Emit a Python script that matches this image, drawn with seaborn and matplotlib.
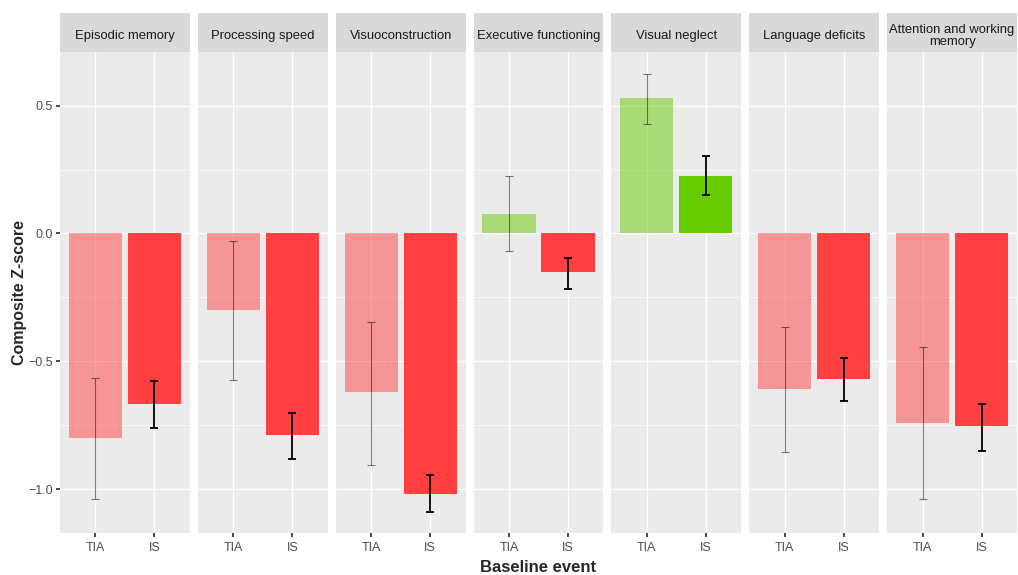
import matplotlib
matplotlib.use('Agg')
import matplotlib.pyplot as plt
import seaborn as sns
import numpy as np
import pandas as pd

# 数据
domains = ['Episodic memory', 'Processing speed', 'Visuoconstruction',
           'Executive functioning', 'Visual neglect', 'Language deficits',
           'Attention and working\nmemory']
events = ['TIA', 'IS']
tia_mean = [-0.80, -0.30, -0.62, 0.076, 0.53, -0.61, -0.74]
tia_lower = [-1.04, -0.573, -0.906, -0.068, 0.43, -0.856, -1.04]
tia_upper = [-0.564, -0.029, -0.348, 0.225, 0.623, -0.366, -0.445]
is_mean = [-0.666, -0.79, -1.021, -0.152, 0.226, -0.568, -0.755]
is_lower = [-0.761, -0.883, -1.091, -0.218, 0.152, -0.654, -0.851]
is_upper = [-0.577, -0.703, -0.945, -0.095, 0.303, -0.488, -0.668]

df = pd.DataFrame({
    'domain': np.repeat(domains, 2),
    'event': events * len(domains),
    'z': np.ravel(np.column_stack([tia_mean, is_mean])),
    'lower': np.ravel(np.column_stack([tia_lower, is_lower])),
    'upper': np.ravel(np.column_stack([tia_upper, is_upper])),
})

# 正值绿色、负值红色；TIA 半透明
SIGN_COLOR = {True: '#66CC00', False: '#FF4040'}
ALPHA = {'TIA': 0.5, 'IS': 1.0}
ERR_STYLE = {'TIA': dict(lw=0.8, alpha=0.5), 'IS': dict(lw=1.3, alpha=1.0)}

sns.set_theme(style='darkgrid')
plt.rcParams['font.family'] = ['Liberation Sans', 'DejaVu Sans']

fig = plt.figure(figsize=(10.18, 5.75), dpi=100)
left, right, bottom, top = 60 / 1018, 1017 / 1018, 1 - 533 / 575, 1 - 52 / 575
gap = 8 / 1018
n = len(domains)
w = (right - left - gap * (n - 1)) / n
strip_h = 39 / 575

for i, dom in enumerate(domains):
    ax = fig.add_axes([left + i * (w + gap), bottom, w, top - bottom])
    sub = df[df['domain'] == dom].set_index('event').loc[events].reset_index()
    pal = {r.event: SIGN_COLOR[r.z > 0] for r in sub.itertuples()}
    sns.barplot(data=sub, x='event', y='z', hue='event', order=events,
                palette=pal, width=0.9, errorbar=None, legend=False,
                saturation=1, linewidth=0, ax=ax, zorder=2)
    for p in ax.patches:
        cx = p.get_x() + p.get_width() / 2
        p.set_alpha(ALPHA[events[int(round(cx))]])
    for j, r in enumerate(sub.itertuples()):
        st = ERR_STYLE[r.event]
        ax.errorbar(j, r.z, yerr=[[r.z - r.lower], [r.upper - r.z]], fmt='none',
                    ecolor='black', elinewidth=st['lw'], capsize=3,
                    capthick=st['lw'], alpha=st['alpha'], zorder=3)
    ax.set_facecolor('#EBEBEB')
    ax.set_xlim(-0.6, 1.6)
    ax.set_ylim(-1.172, 0.71)
    ax.set_yticks([-1.0, -0.5, 0.0, 0.5])
    ax.set_yticks([-0.75, -0.25, 0.25], minor=True)
    ax.grid(which='major', color='white', lw=1.0)
    ax.grid(which='minor', axis='y', color='white', lw=0.5)
    ax.set_axisbelow(True)
    for s in ax.spines.values():
        s.set_visible(False)
    ax.tick_params(axis='x', length=3, color='#333333', labelsize=9,
                   labelcolor='#4D4D4D', pad=3.5, bottom=True)
    ax.set_xlabel('')
    ax.set_ylabel('')
    if i == 0:
        ax.tick_params(axis='y', length=3, color='#333333', labelsize=9,
                       labelcolor='#4D4D4D', pad=2, left=True)
    else:
        ax.tick_params(axis='y', left=False, labelleft=False)
    # 分面标题条
    sax = fig.add_axes([left + i * (w + gap), top, w, strip_h])
    sax.set_facecolor('#D9D9D9')
    sax.set_xticks([])
    sax.set_yticks([])
    for s in sax.spines.values():
        s.set_visible(False)
    sax.text(0.5, 0.42, dom, ha='center', va='center', fontsize=9.4,
             color='#1A1A1A', linespacing=1.0, transform=sax.transAxes)

fig.text(left + (right - left) / 2, 1 - 567 / 575, 'Baseline event', ha='center',
         va='center', fontsize=12, fontweight='bold')
fig.text(0.019, bottom + (top - bottom) / 2, 'Composite Z-score', ha='center',
         va='center', rotation=90, fontsize=11.5, fontweight='bold')

fig.savefig('out.png', dpi=100)
